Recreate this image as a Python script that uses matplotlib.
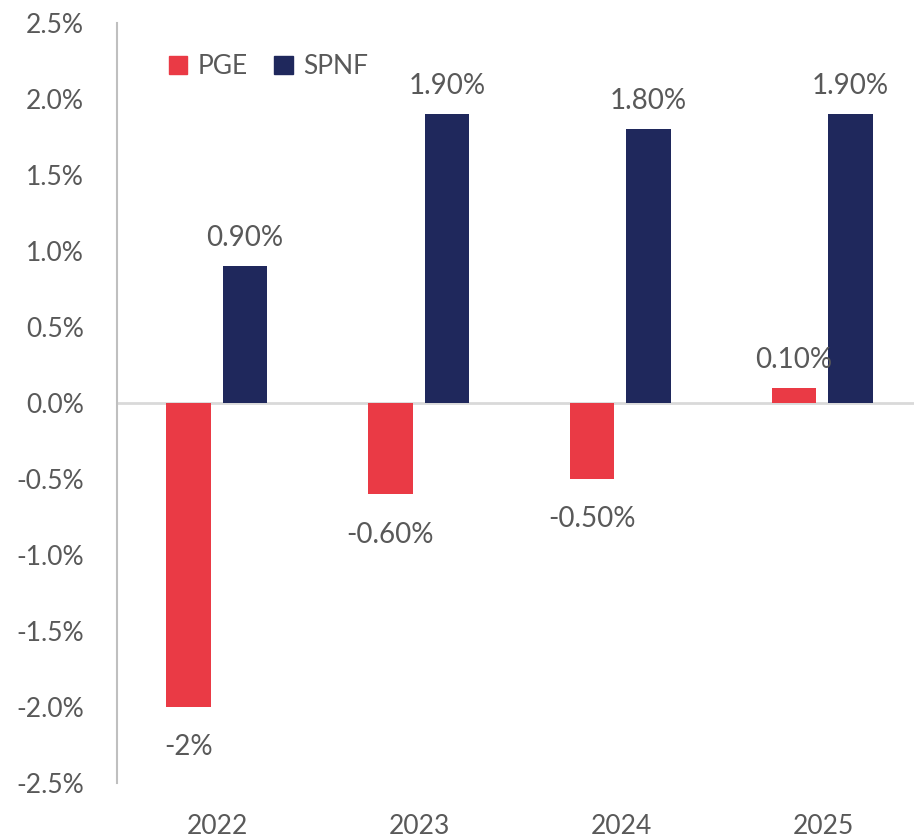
import numpy as np
import matplotlib.pyplot as plt
from matplotlib.patches import Patch

years = ['2022', '2023', '2024', '2025']
pge = [-2.0, -0.6, -0.5, 0.1]
spnf = [0.9, 1.9, 1.8, 1.9]
pge_labels = ['-2%', '-0.60%', '-0.50%', '0.10%']
spnf_labels = ['0.90%', '1.90%', '1.80%', '1.90%']

red = '#EA3A45'
navy = '#1F285C'
txt = '#595959'

plt.rcParams['font.family'] = ['Lato', 'DejaVu Sans']

fig = plt.figure(figsize=(9.14, 8.39), dpi=100)
ax = fig.add_axes([117/914, 56/839, 1 - 117/914, (784-24)/839])

x = np.arange(len(years))
w = 0.22
ax.bar(x - 0.145, pge, w, color=red)
ax.bar(x + 0.135, spnf, w, color=navy)

fs = 20
for i in range(len(years)):
    if pge[i] < 0:
        ax.text(x[i] - 0.145, pge[i] - 0.18, pge_labels[i], ha='center', va='top',
                fontsize=fs, color=txt)
    else:
        ax.text(x[i] - 0.145, pge[i] + 0.1, pge_labels[i], ha='center', va='bottom',
                fontsize=fs, color=txt)
    ax.text(x[i] + 0.135, spnf[i] + 0.1, spnf_labels[i], ha='center', va='bottom',
            fontsize=fs, color=txt)

ax.axhline(0, color='#d9d9d9', lw=2, zorder=0)
ax.set_xlim(-0.5, 3.45)
ax.set_ylim(-2.5, 2.5)
yt = np.arange(-2.5, 2.51, 0.5)
ax.set_yticks(yt)
ax.set_yticklabels(['%.1f%%' % v for v in yt])
ax.set_xticks(x)
ax.set_xticklabels(years)
ax.tick_params(axis='both', length=0, labelsize=19, colors=txt)
ax.tick_params(axis='y', pad=24)
ax.tick_params(axis='x', pad=22)
for s in ['top', 'right', 'bottom']:
    ax.spines[s].set_visible(False)
ax.spines['left'].set_color('#bfbfbf')
ax.spines['left'].set_linewidth(1.5)

handles = [Patch(color=red, label='PGE'), Patch(color=navy, label='SPNF')]
ax.legend(handles=handles, loc='upper left', bbox_to_anchor=(0.035, 0.99), ncol=2,
          frameon=False, fontsize=19, labelcolor=txt, handlelength=0.7,
          handleheight=0.7, handletextpad=0.4, columnspacing=1.0)

fig.savefig('out.png', dpi=100)
